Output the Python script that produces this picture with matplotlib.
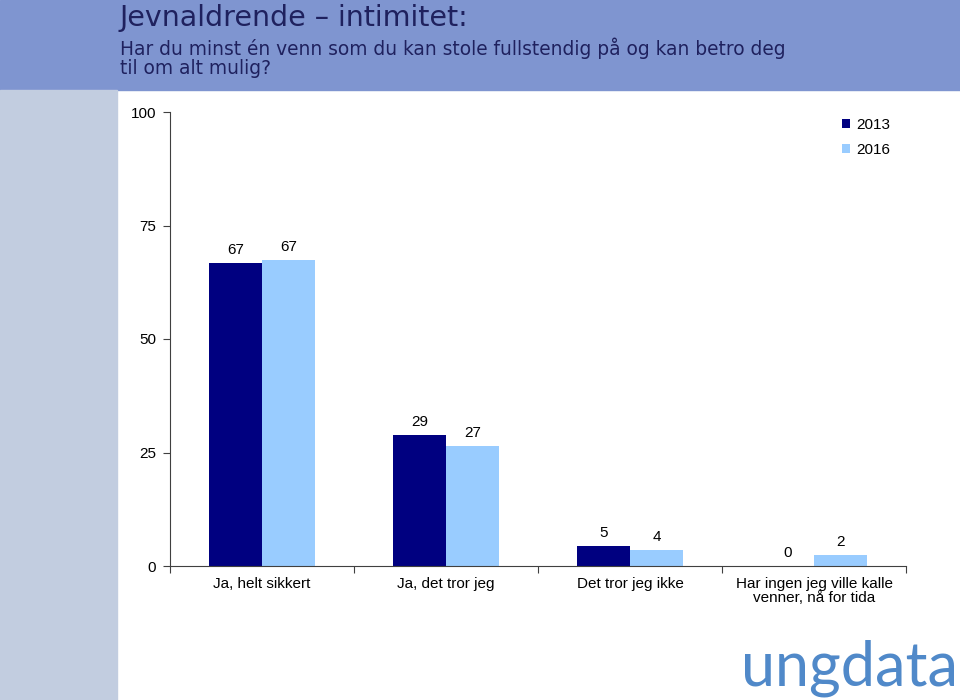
import numpy as np
import matplotlib
matplotlib.use("Agg")
from matplotlib import pyplot as plt
from matplotlib.patches import Rectangle

# data
categories = ["Ja, helt sikkert", "Ja, det tror jeg", "Det tror jeg ikke",
              "Har ingen jeg ville kalle\nvenner, nå for tida"]
years = ["2013", "2016"]
values_2013 = [66.8, 28.9, 4.4, 0.0]
values_2016 = [67.4, 26.4, 3.5, 2.4]
labels_2013 = ["67", "29", "5", "0"]
labels_2016 = ["67", "27", "4", "2"]
yticks = [0, 25, 50, 75, 100]

col_2013 = "#000080"
col_2016 = "#99CCFF"

fig = plt.figure(figsize=(9.6, 7), dpi=100)

# header band and side strip
fig.patches.append(Rectangle((0, 1 - 90 / 700), 1, 90 / 700, transform=fig.transFigure,
                             color="#7F95D0", zorder=0))
fig.patches.append(Rectangle((0, 0), 117 / 960, 1 - 90 / 700, transform=fig.transFigure,
                             color="#C2CDE0", zorder=0))

tcol = "#1F215E"
fig.text(120 / 960, 1 - 18 / 700, "Jevnaldrende – intimitet:", fontsize=20.5,
         color=tcol, va="center", ha="left", family="DejaVu Sans")
fig.text(120 / 960, 1 - 48 / 700, "Har du minst én venn som du kan stole fullstendig på og kan betro deg",
         fontsize=13.4, color=tcol, va="center", ha="left", family="DejaVu Sans")
fig.text(120 / 960, 1 - 68 / 700, "til om alt mulig?",
         fontsize=13.4, color=tcol, va="center", ha="left", family="DejaVu Sans")

ax = fig.add_axes([170 / 960, 1 - 566 / 700, 736 / 960, 454 / 700])
x = np.arange(len(categories))
w = 0.288
b1 = ax.bar(x - w / 2, values_2013, w, color=col_2013, label=years[0])
b2 = ax.bar(x + w / 2, values_2016, w, color=col_2016, label=years[1])

for bars, labs in ((b1, labels_2013), (b2, labels_2016)):
    for r, t in zip(bars, labs):
        ax.annotate(t, (r.get_x() + r.get_width() / 2, r.get_height()),
                    xytext=(0, 9.5), textcoords="offset points", ha="center", va="center",
                    fontsize=11, family="Liberation Sans")

ax.set_xlim(-0.5, len(categories) - 0.5)
ax.set_ylim(0, 100)
ax.set_yticks(yticks)
ax.set_yticklabels([str(v) for v in yticks], family="Liberation Sans", fontsize=11)
ax.set_xticks(np.arange(len(categories) + 1) - 0.5)
ax.set_xticklabels([])
ax.set_xticks(x, minor=True)
ax.set_xticklabels(categories, minor=True, family="Liberation Sans", fontsize=11,
                   linespacing=1.0)
ax.tick_params(axis="x", which="minor", length=0, pad=8)
ax.tick_params(axis="x", which="major", length=5, direction="out", color="#404040")
ax.tick_params(axis="y", length=5, direction="out", color="#404040", pad=5)
for s in ("top", "right"):
    ax.spines[s].set_visible(False)
for s in ("left", "bottom"):
    ax.spines[s].set_color("#404040")

leg = ax.legend(loc="upper left", bbox_to_anchor=(672 / 736, 1 - 6 / 454), frameon=False,
                prop={"family": "Liberation Sans", "size": 11},
                handlelength=0.55, handleheight=0.55, handletextpad=0.35, labelspacing=0.7,
                borderaxespad=0.0, borderpad=0.0)

fig.text(958 / 960, 1 - 668 / 700, "ungdata", fontsize=44, color="#5089C9",
         ha="right", va="center", family="Lato")

plt.savefig("out.png", dpi=100)
